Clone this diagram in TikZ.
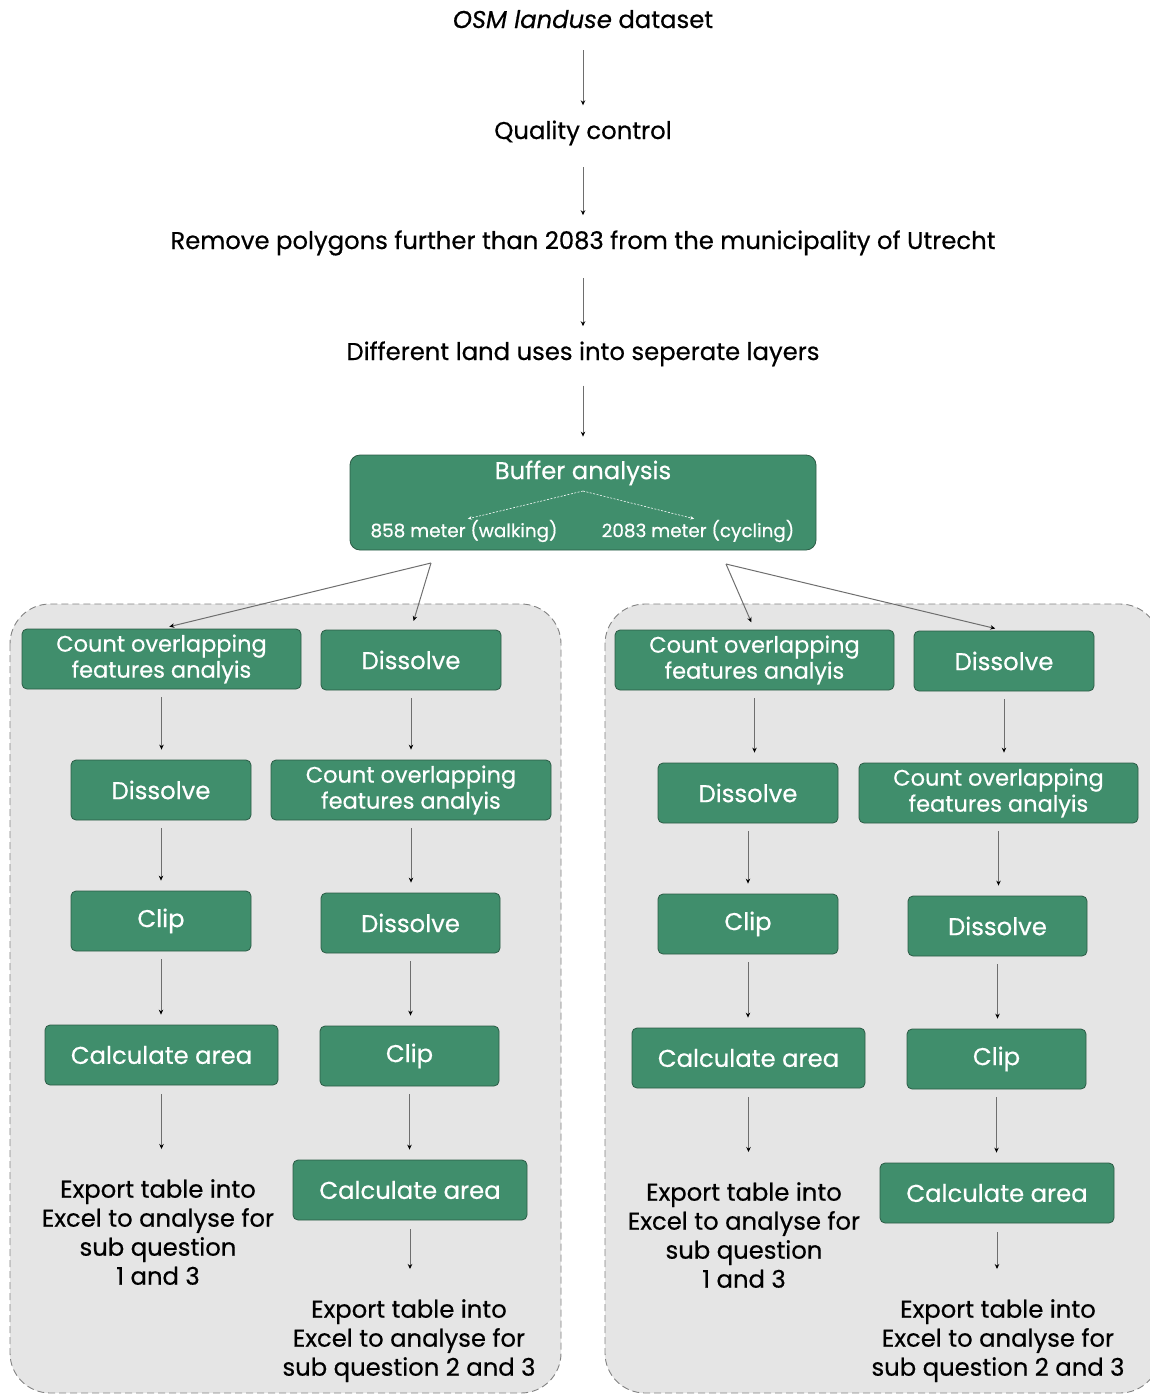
\documentclass[tikz,border=0pt]{standalone}
\usepackage{fontspec}
\setmainfont{Poppins}[FakeBold=0.5]
\usetikzlibrary{arrows.meta}
\definecolor{boxgreen}{RGB}{64,142,108}
\definecolor{boxedge}{RGB}{44,92,70}
\definecolor{contfill}{RGB}{229,229,229}
\definecolor{contedge}{RGB}{130,130,130}
\definecolor{arrline}{RGB}{110,110,110}
\tikzset{
  gbox/.style={draw=boxedge, line width=0.8pt, fill=boxgreen, rounded corners=5pt,
    text=white, align=center, inner sep=0pt, minimum height=60pt,
    font=\fontsize{24.3}{26}\selectfont},
  cbox/.style={gbox, font=\fontsize{22.5}{26}\selectfont},
  plain/.style={inner sep=0pt, align=center, font=\fontsize{24.3}{29}\selectfont},
  wtext/.style={inner sep=0pt, text=white},
  arr/.style={draw=arrline, line width=1pt, -{Stealth[length=5pt,width=4.5pt,color=black]}},
  darr/.style={draw=white, line width=0.6pt, dashed, dash pattern=on 2pt off 1.5pt, -{Stealth[length=4pt,width=3.5pt]}},
  cont/.style={draw=contedge, dashed, dash pattern=on 7pt off 4pt, line width=0.9pt, fill=contfill, rounded corners=40pt},
}
\begin{document}
\begin{tikzpicture}[x=1pt,y=-1pt]
\useasboundingbox (0,0) rectangle (1149,1395);
% containers
\path[cont] (10,604) rectangle (561,1393);
\path[cont] (605,604) rectangle (1160,1393);
% top chain
\node[plain, anchor=base] (osm) at (583,28) {\textit{OSM landuse} dataset};
\node[plain, anchor=base] (qc) at (583,139) {Quality control};
\node[plain, anchor=base] (rm) at (583,249) {Remove polygons further than 2083 from the municipality of Utrecht};
\node[plain, anchor=base] (dl) at (583,360) {Different land uses into seperate layers};
\node[gbox, minimum width=466pt, minimum height=95pt, rounded corners=10pt] (buf) at (583,502.5) {};
\node[wtext, font=\fontsize{24.3}{26}\selectfont] (bt) at (583,473) {Buffer analysis};
\node[wtext, font=\fontsize{18.4}{22}\selectfont] (walk) at (464,531) {858 meter (walking)};
\node[wtext, font=\fontsize{18.4}{22}\selectfont] (cyc) at (698,531) {2083 meter (cycling)};
\coordinate (bs) at (583,491);
\draw[darr, shorten >=4pt] (bs) -- (walk.north);
\draw[darr, shorten >=4pt] (bs) -- (cyc.north);
\draw[arr, shorten <=22pt, shorten >=15pt] (osm) -- (qc);
\draw[arr, shorten <=22pt, shorten >=15pt] (qc) -- (rm);
\draw[arr, shorten <=22pt, shorten >=15pt] (rm) -- (dl);
\draw[arr, shorten <=19pt, shorten >=18pt] (dl) -- (buf);
% left container
\node[cbox, minimum width=279pt] (a1) at (161.5,659) {Count overlapping\\features analyis};
\node[gbox, minimum width=180pt] (a2) at (161,790) {Dissolve};
\node[gbox, minimum width=180pt] (a3) at (161,921) {Clip};
\node[gbox, minimum width=233pt] (a4) at (161.5,1055) {Calculate area};
\node[plain, anchor=north] (a5) at (158,1179) {Export table into\\Excel to analyse for\\sub question\\1 and 3};
\node[gbox, minimum width=180pt] (b1) at (411,660) {Dissolve};
\node[cbox, minimum width=280pt] (b2) at (411,790) {Count overlapping\\features analyis};
\node[gbox, minimum width=179pt] (b3) at (410.5,923) {Dissolve};
\node[gbox, minimum width=179pt] (b4) at (409.5,1056) {Clip};
\node[gbox, minimum width=234pt] (b5) at (410,1190) {Calculate area};
\node[plain, anchor=north] (b6) at (409,1299) {Export table into\\Excel to analyse for\\sub question 2 and 3};
% right container
\node[cbox, minimum width=279pt] (c1) at (754.5,660) {Count overlapping\\features analyis};
\node[gbox, minimum width=180pt] (c2) at (748,793) {Dissolve};
\node[gbox, minimum width=180pt] (c3) at (748,924) {Clip};
\node[gbox, minimum width=233pt] (c4) at (748.5,1058) {Calculate area};
\node[plain, anchor=north] (c5) at (744,1182) {Export table into\\Excel to analyse for\\sub question\\1 and 3};
\node[gbox, minimum width=180pt] (d1) at (1004,661) {Dissolve};
\node[cbox, minimum width=279pt] (d2) at (998.5,793) {Count overlapping\\features analyis};
\node[gbox, minimum width=179pt] (d3) at (997.5,926) {Dissolve};
\node[gbox, minimum width=179pt] (d4) at (996.5,1059) {Clip};
\node[gbox, minimum width=234pt] (d5) at (997,1193) {Calculate area};
\node[plain, anchor=north] (d6) at (998,1299) {Export table into\\Excel to analyse for\\sub question 2 and 3};
% split arrows
\coordinate (sl) at (431,563);
\coordinate (sr) at (726,564);
\draw[arr, shorten >=8pt] (sl) -- (a1.north);
\draw[arr, shorten >=9pt] (sl) -- (b1.north);
\draw[arr, shorten >=8pt] (sr) -- (c1.north);
\draw[arr, shorten >=9pt] (sr) -- (d1.north);
% column arrows
\foreach \p/\q in {a1/a2,a2/a3,a3/a4,b1/b2,b2/b3,b3/b4,b4/b5,c1/c2,c2/c3,c3/c4,d1/d2,d2/d3,d3/d4,d4/d5}
  \draw[arr, shorten <=8pt, shorten >=10pt] (\p.south) -- (\p.south |- \q.north);
\foreach \p/\q in {a4/a5,b5/b6,c4/c5,d5/d6}
  \draw[arr, shorten <=9pt, shorten >=30pt] (\p.south) -- (\p.south |- \q.north);
\end{tikzpicture}
\end{document}
